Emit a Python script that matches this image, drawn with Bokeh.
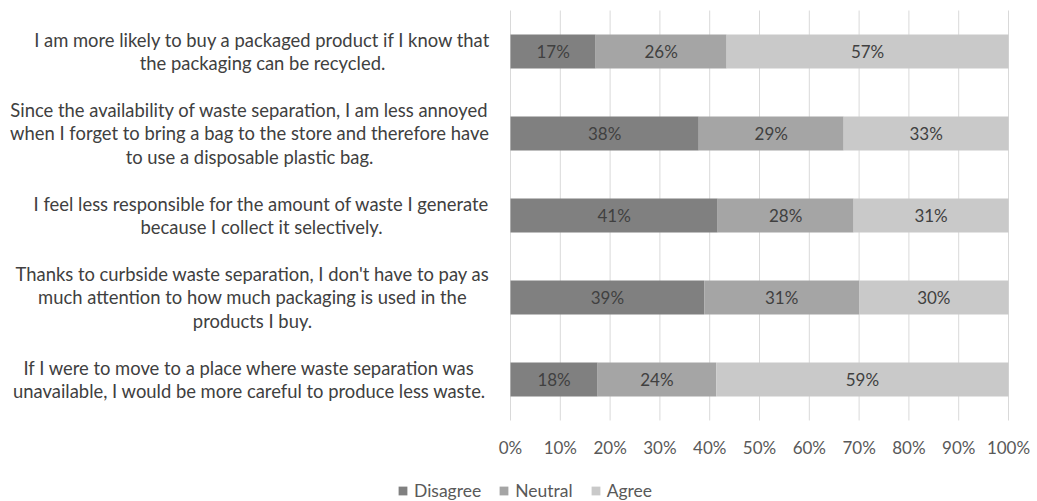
from bokeh.plotting import figure
from bokeh.models import Legend, LegendItem, ColumnDataSource, Range1d
from bokeh.embed import file_html
from bokeh.resources import INLINE
from bokeh.core.properties import value

statements = [
    "I am more likely to buy a packaged product if I know that\nthe packaging can be recycled.",
    "Since the availability of waste separation, I am less annoyed\nwhen I forget to bring a bag to the store and therefore have\nto use a disposable plastic bag.",
    "I feel less responsible for the amount of waste I generate\nbecause I collect it selectively.",
    "Thanks to curbside waste separation, I don't have to pay as\nmuch attention to how much packaging is used in the\nproducts I buy.",
    "If I were to move to a place where waste separation was\nunavailable, I would be more careful to produce less waste.",
]
series = ["Disagree", "Neutral", "Agree"]
disagree = [17.1, 37.8, 41.6, 38.9, 17.5]
neutral = [26.3, 29.1, 27.3, 31.1, 23.8]
agree = [56.6, 33.1, 31.1, 30.0, 58.7]
disagree_labels = ["17%", "38%", "41%", "39%", "18%"]
neutral_labels = ["26%", "29%", "28%", "31%", "24%"]
agree_labels = ["57%", "33%", "31%", "30%", "59%"]
tick_values = [0, 10, 20, 30, 40, 50, 60, 70, 80, 90, 100]
tick_labels = ["0%", "10%", "20%", "30%", "40%", "50%", "60%", "70%", "80%", "90%", "100%"]

colors = ["#808080", "#a5a5a5", "#c9c9c9"]
FONT = "Lato"
TEXT = "#404040"

# ---- layout (pixels) ----
W, H = 1037, 501
ZERO_PX, FULL_PX = 510, 1008      # x pixel of 0% and 100%
TOP_PX, BOT_PX = 10, 420          # y pixel of plot band top / bottom
TICK_LABEL_PX = 447
label_centers_px = [262, 249, 261, 252, 249]   # centre of each statement block

n = len(statements)
px_x = (FULL_PX - ZERO_PX) / 100.0
px_y = (BOT_PX - TOP_PX) / n
ys = [n - 0.5 - i for i in range(n)]

p = figure(width=W, height=H, output_backend="svg", toolbar_location=None,
           x_range=Range1d(-ZERO_PX / px_x, (W - ZERO_PX) / px_x),
           y_range=Range1d(-(H - BOT_PX) / px_y, n + TOP_PX / px_y),
           min_border=0, x_axis_location=None, y_axis_location=None)
p.outline_line_color = None
p.background_fill_color = "white"
p.border_fill_color = "white"
p.grid.visible = False

# vertical gridlines at tick positions
p.segment(x0=tick_values, x1=tick_values, y0=[0] * len(tick_values), y1=[n] * len(tick_values),
          line_color="#d9d9d9", line_width=1)

vals = [disagree, neutral, agree]
labs = [disagree_labels, neutral_labels, agree_labels]
renderers = []
left = [0.0] * n
for k in range(3):
    right = [l + v for l, v in zip(left, vals[k])]
    src = ColumnDataSource(dict(y=ys, left=left, right=right,
                                mid=[(a + b) / 2 for a, b in zip(left, right)],
                                lab=labs[k]))
    r = p.hbar(y="y", left="left", right="right", height=0.415, source=src,
               fill_color=colors[k], line_color=None)
    renderers.append(r)
    p.text(x="mid", y="y", text="lab", source=src, text_align="center",
           text_baseline="middle", text_font=value(FONT), text_font_size="17px",
           text_color=TEXT)
    left = right

# category (statement) labels
stmt_src = ColumnDataSource(dict(
    x=[(c - ZERO_PX) / px_x for c in label_centers_px], y=ys, text=statements))
p.text(x="x", y="y", text="text", source=stmt_src, text_align="center",
       text_baseline="middle", text_font=value(FONT), text_font_size="18.4px",
       text_color=TEXT, text_line_height=1.06)

# x tick labels
tick_y = -(TICK_LABEL_PX - BOT_PX) / px_y
p.text(x=tick_values, y=[tick_y] * len(tick_values), text=tick_labels,
       text_align="center", text_baseline="middle", text_font=value(FONT),
       text_font_size="17px", text_color="#595959")

legend = Legend(items=[LegendItem(label=series[k], renderers=[renderers[k]]) for k in range(3)],
                orientation="horizontal", location=(397, 0),
                glyph_width=11, glyph_height=11, label_standoff=6, spacing=17,
                label_text_font=FONT, label_text_font_size="17.5px", label_text_color="#595959",
                label_height=17, padding=0, margin=0,
                border_line_color=None, background_fill_alpha=0)
p.add_layout(legend, "center")

open("out.html", "w").write(file_html(p, INLINE))
